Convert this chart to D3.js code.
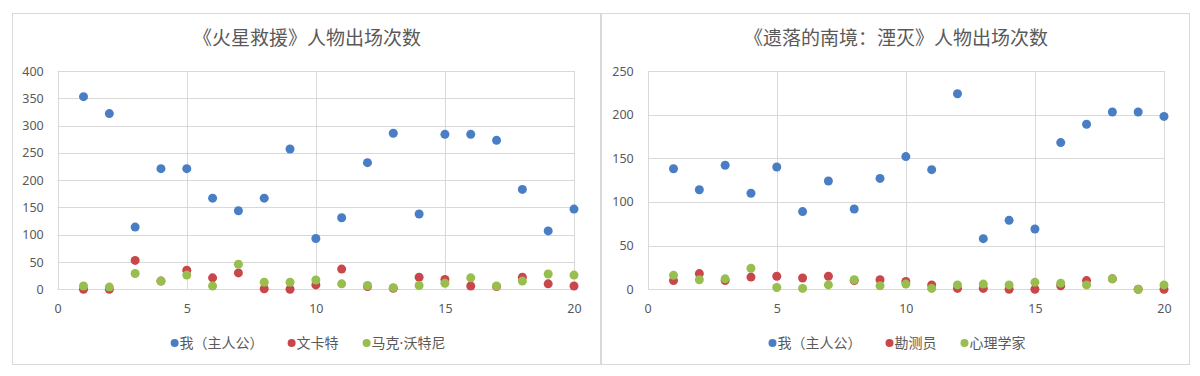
<!DOCTYPE html>
<html>
<head>
<meta charset="utf-8">
<script src="https://cdn.jsdelivr.net/npm/d3@7"></script>
<style>
  body { margin: 0; background: #fff; }
  text { font-family: "Noto Sans CJK SC", "Noto Sans", sans-serif; }
</style>
</head>
<body>
<div id="chart"></div>
<script>
// Episode numbers (x values) shared by both charts.
const episodes = [1, 2, 3, 4, 5, 6, 7, 8, 9, 10, 11, 12, 13, 14, 15, 16, 17, 18, 19, 20];

// 《火星救援》
const martianTitle = "《火星救援》人物出场次数";
const martianNames = ["我（主人公）", "文卡特", "马克·沃特尼"];
const martianMe     = [353, 322, 114, 221, 221, 167, 144, 167, 257, 93, 131, 232, 286, 138, 284, 284, 273, 183, 107, 147];
const martianVenkat = [0, 0, 53, 15, 35, 21, 30, 1, 0, 8, 37, 5, 2, 22, 18, 6, 5, 22, 10, 6];
const martianWatney = [6, 4, 29, 15, 26, 6, 46, 13, 13, 17, 10, 7, 3, 7, 11, 21, 6, 15, 28, 26];
const martianYTicks = [0, 50, 100, 150, 200, 250, 300, 350, 400];

// 《遗落的南境：湮灭》
const annihTitle = "《遗落的南境：湮灭》人物出场次数";
const annihNames = ["我（主人公）", "勘测员", "心理学家"];
const annihMe       = [138, 114, 142, 110, 140, 89, 124, 92, 127, 152, 137, 224, 58, 79, 69, 168, 189, 203, 203, 198];
const annihSurveyor = [10, 18, 10, 14, 15, 13, 15, 10, 11, 9, 5, 1, 1, 0, 0, 4, 10, 12, 0, 0];
const annihPsych    = [16, 11, 12, 24, 2, 1, 5, 11, 4, 6, 1, 5, 6, 5, 8, 7, 5, 12, 0, 5];
const annihYTicks = [0, 50, 100, 150, 200, 250];

const xTicks = [0, 5, 10, 15, 20];
const colors = ["#4A7EC4", "#C9474A", "#97BE4E"];

const width = 1200;
const height = 376;

const svg = d3.select("#chart")
  .append("svg")
    .attr("width", width)
    .attr("height", height);

svg.append("rect")
  .attr("width", width)
  .attr("height", height)
  .attr("fill", "#fff");

// Draw one chart panel.
function panel(box, title, names, series, yTicks) {
  const g = svg.append("g");

  // Outer chart border.
  g.append("rect")
    .attr("x", box.x0 + 0.5)
    .attr("y", box.y0 + 0.5)
    .attr("width", box.x1 - box.x0)
    .attr("height", box.y1 - box.y0)
    .attr("fill", "#fff")
    .attr("stroke", "#D9D9D9");

  const x = d3.scaleLinear()
    .domain([0, 20])
    .range([box.px0, box.px1]);

  const y = d3.scaleLinear()
    .domain([0, d3.max(yTicks)])
    .range([box.py0, box.py1]);

  // Horizontal gridlines.
  g.append("g")
    .selectAll("line")
    .data(yTicks)
    .join("line")
      .attr("x1", x(0))
      .attr("x2", x(20))
      .attr("y1", d => Math.round(y(d)) + 0.5)
      .attr("y2", d => Math.round(y(d)) + 0.5)
      .attr("stroke", "#D9D9D9");

  // Vertical gridlines.
  g.append("g")
    .selectAll("line")
    .data(xTicks)
    .join("line")
      .attr("x1", d => Math.round(x(d)) + 0.5)
      .attr("x2", d => Math.round(x(d)) + 0.5)
      .attr("y1", y(d3.max(yTicks)))
      .attr("y2", y(0))
      .attr("stroke", "#D9D9D9");

  // Axes (labels only, lines come from the grid).
  const yAxis = g.append("g")
    .attr("transform", `translate(${x(0)},0)`)
    .call(d3.axisLeft(y).tickValues(yTicks).tickSize(0).tickPadding(14));

  const xAxis = g.append("g")
    .attr("transform", `translate(0,${y(0)})`)
    .call(d3.axisBottom(x).tickValues(xTicks).tickSize(0).tickPadding(15));

  [yAxis, xAxis].forEach(a => {
    a.select(".domain").remove();
    a.selectAll("text")
      .attr("fill", "#595959")
      .style("font-family", "'Noto Sans', sans-serif")
      .style("font-size", "12.5px");
  });

  // Points: blue first, then red, then green on top.
  series.forEach((values, i) => {
    g.append("g")
      .selectAll("circle")
      .data(values)
      .join("circle")
        .attr("cx", (d, j) => x(episodes[j]))
        .attr("cy", d => y(d))
        .attr("r", 4.5)
        .attr("fill", colors[i]);
  });

  // Title.
  g.append("text")
    .attr("x", (box.x0 + box.x1) / 2 + 1)
    .attr("y", 45)
    .attr("text-anchor", "middle")
    .attr("fill", "#595959")
    .style("font-size", "19px")
    .text(title);

  // Legend, centred under the plot.
  const legend = g.append("g");
  let cursor = 0;
  names.forEach((name, i) => {
    const item = legend.append("g").attr("transform", `translate(${cursor},0)`);
    item.append("circle")
      .attr("cx", 4)
      .attr("cy", 0)
      .attr("r", 4)
      .attr("fill", colors[i]);
    const t = item.append("text")
      .attr("x", 9)
      .attr("y", 5)
      .attr("fill", "#595959")
      .style("font-size", "14px");
    // the middle dot is narrow in the original, so give it a latin font
    name.split(/(·)/).filter(s => s).forEach(part => {
      t.append("tspan")
        .style("font-family", part === "·" ? "'Noto Sans', sans-serif" : null)
        .text(part);
    });
    cursor += 9 + t.node().getComputedTextLength() + 24;
  });
  const legendWidth = cursor - 24;
  legend.attr("transform", `translate(${(box.x0 + box.x1) / 2 + 2 - legendWidth / 2},343)`);
}

panel({x0: 12, x1: 600, y0: 13, y1: 364, px0: 57.7, px1: 574, py0: 289.3, py1: 71},
  martianTitle, martianNames, [martianMe, martianVenkat, martianWatney], martianYTicks);

panel({x0: 601, x1: 1189, y0: 13, y1: 364, px0: 647.7, px1: 1164, py0: 289.3, py1: 71},
  annihTitle, annihNames, [annihMe, annihSurveyor, annihPsych], annihYTicks);
</script>
</body>
</html>
